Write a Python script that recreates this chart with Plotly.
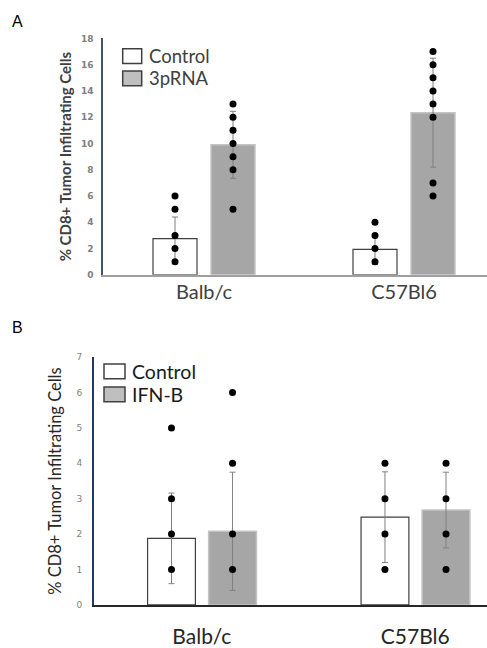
import plotly.graph_objects as go

# ---------------- data ----------------
categories = ["Balb/c", "C57Bl6"]

a_series = ["Control", "3pRNA"]
a_ctrl_mean = [2.75, 1.93]
a_ctrl_sd = [1.65, 1.15]
a_trt_mean = [9.9, 12.35]
a_trt_sd = [2.55, 4.15]
a_ctrl_points = [[6, 5, 3, 2, 1], [4, 3, 2, 1]]
a_trt_points = [[13, 12, 11, 10, 9, 8, 5], [17, 16, 15, 14, 13, 12, 7, 6]]

b_series = ["Control", "IFN-B"]
b_ctrl_mean = [1.88, 2.48]
b_ctrl_sd = [1.28, 1.28]
b_trt_mean = [2.08, 2.68]
b_trt_sd = [1.67, 1.07]
b_ctrl_points = [[5, 3, 2, 1], [4, 3, 2, 1]]
b_trt_points = [[6, 4, 2, 1], [4, 3, 2, 1]]

a_yticks = list(range(0, 19, 2))
b_yticks = list(range(0, 8, 1))
y_title = "% CD8+ Tumor Infiltrating Cells"

# ---------------- style ----------------
W, H = 487, 648
FONT = "Lato"
GRAY_FILL = "#a6a6a6"
DARK = "#404040"

fig = go.Figure()


def add_panel(xa, ya, ctrl_mean, ctrl_sd, trt_mean, trt_sd,
              ctrl_pts, trt_pts, bw, off_c, off_t, err_col):
    xs = list(range(len(categories)))
    fig.add_trace(go.Bar(
        x=xs, y=ctrl_mean, width=bw, offset=off_c, xaxis=xa, yaxis=ya,
        marker=dict(color="white", line=dict(color=DARK, width=1.2)),
        error_y=dict(type="data", array=ctrl_sd, color=err_col, thickness=1, width=3),
        showlegend=False, hoverinfo="skip"))
    fig.add_trace(go.Bar(
        x=xs, y=trt_mean, width=bw, offset=off_t, xaxis=xa, yaxis=ya,
        marker=dict(color=GRAY_FILL, line=dict(color="#c4c4c4", width=1.5)),
        error_y=dict(type="data", array=trt_sd, color=err_col, thickness=1, width=3),
        showlegend=False, hoverinfo="skip"))
    for pts, off in ((ctrl_pts, off_c), (trt_pts, off_t)):
        px, py = [], []
        for i, vals in enumerate(pts):
            for v in vals:
                px.append(i + off + bw / 2)
                py.append(v)
        fig.add_trace(go.Scatter(
            x=px, y=py, mode="markers", xaxis=xa, yaxis=ya,
            marker=dict(color="black", size=7), showlegend=False, hoverinfo="skip"))


add_panel("x", "y", a_ctrl_mean, a_ctrl_sd, a_trt_mean, a_trt_sd,
          a_ctrl_points, a_trt_points, 0.22, -0.255, 0.035, "#7f7f7f")
add_panel("x2", "y2", b_ctrl_mean, b_ctrl_sd, b_trt_mean, b_trt_sd,
          b_ctrl_points, b_trt_points, 0.224, -0.254, 0.032, "#808080")


# legends drawn as boxes + text (pixel positions from top-left)
def legend_items(names, x0, x1, centers, box_h, text_x, size, color):
    shapes, anns = [], []
    fills = ["white", "#bfbfbf"]
    for name, c, fill in zip(names, centers, fills):
        y0, y1 = c - box_h / 2, c + box_h / 2
        shapes.append(dict(type="rect", xref="paper", yref="paper",
                           x0=x0 / W, x1=x1 / W, y0=1 - y1 / H, y1=1 - y0 / H,
                           fillcolor=fill, line=dict(color=DARK, width=1.5)))
        anns.append(dict(text=name, x=text_x / W, y=1 - c / H,
                         xref="paper", yref="paper", xanchor="left", yanchor="middle",
                         showarrow=False, font=dict(size=size, color=color, family=FONT)))
    return shapes, anns


sa, aa = legend_items(a_series, 122.7, 141.7, [52, 74.5], 15, 147, 18.5, DARK)
sb, ab = legend_items(b_series, 104, 125, [372, 395.5], 15, 130, 19.5, "#1a1a1a")

panel_labels = [
    dict(text="A", x=10 / W, y=1 - 17 / H, xref="paper", yref="paper",
         xanchor="left", yanchor="middle", showarrow=False,
         font=dict(size=16, color="black", family="Liberation Sans")),
    dict(text="B", x=10 / W, y=1 - 328 / H, xref="paper", yref="paper",
         xanchor="left", yanchor="middle", showarrow=False,
         font=dict(size=16, color="black", family="Liberation Sans")),
]

fig.update_layout(
    width=W, height=H,
    margin=dict(l=0, r=0, t=0, b=0),
    paper_bgcolor="white", plot_bgcolor="white",
    barmode="overlay",
    showlegend=False,
    font=dict(family=FONT, color=DARK),
    xaxis=dict(domain=[103 / W, 1], range=[-0.505, 1.415], anchor="y",
               tickvals=[0, 1], ticktext=categories, showgrid=False, zeroline=False,
               showline=True, linecolor="#a0a0a0", linewidth=2, ticks="",
               ticklabelstandoff=-2, tickfont=dict(size=20, color=DARK, family=FONT)),
    yaxis=dict(domain=[1 - 274 / H, 1 - 34 / H], range=[0, 18], anchor="x",
               tickvals=a_yticks, showgrid=False, zeroline=False,
               showline=True, linecolor="#44546a", linewidth=1.5, ticks="",
               ticklabelstandoff=6,
               tickfont=dict(size=9, color="#7f7f7f", family="DejaVu Sans", weight="bold"),
               title=dict(text=y_title, standoff=6,
                          font=dict(size=15, color=DARK, family=FONT, weight="bold"))),
    xaxis2=dict(domain=[94 / W, 1], range=[-0.505, 1.336], anchor="y2",
                tickvals=[0, 1], ticktext=categories, showgrid=False, zeroline=False,
                showline=True, linecolor="#262626", linewidth=1.5, ticks="",
                ticklabelstandoff=12, tickfont=dict(size=21, color="#262626", family=FONT)),
    yaxis2=dict(domain=[1 - 609.3 / H, 1 - 357.7 / H], range=[0, 7], anchor="x2",
                tickvals=b_yticks, showgrid=False, zeroline=False,
                showline=True, linecolor="#1f3864", linewidth=2, ticks="",
                ticklabelstandoff=8,
                tickfont=dict(size=9, color="#7f7f7f", family="DejaVu Sans"),
                title=dict(text=y_title, standoff=11,
                           font=dict(size=16.5, color="#262626", family=FONT))),
    shapes=sa + sb,
    annotations=aa + ab + panel_labels,
)

fig.write_html("out.html", config={"displayModeBar": False},
               post_script="document.body.style.margin='0px';")
